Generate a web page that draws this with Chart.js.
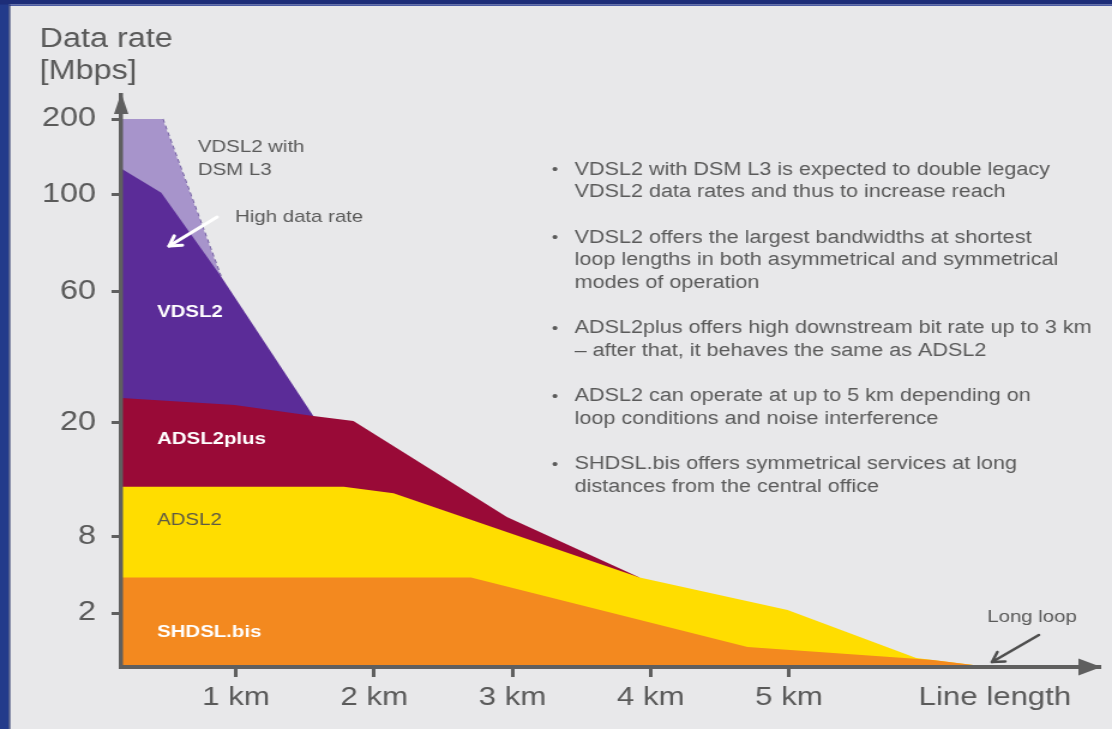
<!DOCTYPE html>
<html><head><meta charset="utf-8">
<script src="https://cdn.jsdelivr.net/npm/chart.js@4/dist/chart.umd.min.js"></script>
<style>
html,body{margin:0;padding:0;background:#e8e8ea;overflow:hidden;width:1112px;height:729px;}
#wrap{width:927px;height:729px;transform:scaleX(1.19957);transform-origin:0 0;}
canvas{display:block}
</style></head><body>
<div id="wrap"><canvas id="c" width="927" height="729"></canvas></div>
<script>
// ---- data (line length in km, data rate in Mbps) ----
const distanceTicksKm = [1, 2, 3, 4, 5, 6.49];
const distanceTickLabels = ['1 km', '2 km', '3 km', '4 km', '5 km', 'Line length'];
const rateTicksMbps = [2, 8, 20, 60, 100, 200];

const shdslKm   = [0.17, 2.70, 4.70, 6.04, 6.45];
const shdslMbps = [4.8, 4.8, 0.74, 0.26, 0];

const adsl2Km   = [0.17, 1.78, 2.14, 3.92, 4.99, 5.92, 6.45];
const adsl2Mbps = [13.3, 13.3, 12.6, 4.8, 2.24, 0.33, 0];

const adsl2plusKm   = [0.17, 0.99, 1.56, 1.85, 2.96, 3.92];
const adsl2plusMbps = [27.6, 25.5, 22.1, 20.6, 10.1, 4.8];

const vdsl2Km   = [0.17, 0.46, 0.89, 1.56];
const vdsl2Mbps = [135, 103, 66.6, 22.1];

const dsmKm   = [0.17, 0.47, 0.89];
const dsmMbps = [200, 200, 66.6];

const seriesNames = ['SHDSL.bis', 'ADSL2', 'ADSL2plus', 'VDSL2', 'VDSL2 with DSM L3'];

const bulletTexts = [
  ['VDSL2 with DSM L3 is expected to double legacy', 'VDSL2 data rates and thus to increase reach'],
  ['VDSL2 offers the largest bandwidths at shortest', 'loop lengths in both asymmetrical and symmetrical', 'modes of operation'],
  ['ADSL2plus offers high downstream bit rate up to 3 km', '\u2013 after that, it behaves the same as ADSL2'],
  ['ADSL2 can operate at up to 5 km depending on', 'loop conditions and noise interference'],
  ['SHDSL.bis offers symmetrical services at long', 'distances from the central office']
];

// schematic (non-uniform) rate axis: [Mbps, fraction of axis height]
const rateAxisBreaks = [[0,0],[2,0.0944],[8,0.2273],[20,0.4266],[60,0.6556],[100,0.8252],[200,0.958],[232,1]];

class BrokenScale extends Chart.LinearScale {
  static id = 'broken';
  static defaults = Chart.LinearScale.defaults;
  _frac(v) {
    const b = rateAxisBreaks;
    if (v <= b[0][0]) return b[0][1];
    for (let i = 1; i < b.length; i++) {
      if (v <= b[i][0]) {
        const [v0, f0] = b[i-1], [v1, f1] = b[i];
        return f0 + (v - v0) / (v1 - v0) * (f1 - f0);
      }
    }
    return b[b.length-1][1];
  }
  getPixelForValue(v) { return this.getPixelForDecimal(this._frac(v)); }
  getValueForPixel(p) {
    const f = this.getDecimalForPixel(p), b = rateAxisBreaks;
    for (let i = 1; i < b.length; i++) {
      if (f <= b[i][1]) {
        const [v0, f0] = b[i-1], [v1, f1] = b[i];
        return v0 + (f - f0) / (f1 - f0) * (v1 - v0);
      }
    }
    return b[b.length-1][0];
  }
}
Chart.register(BrokenScale);

const FONT = '"Liberation Sans", Arial, Helvetica, sans-serif';
Chart.defaults.font.family = FONT;
const AXIS = '#5f5f5f';
const TEXT = '#5a5a5a';

const pts = (xs, ys) => xs.map((x, i) => ({x, y: ys[i]}));
const fills = ['#f3891f', '#ffdd00', '#990a37', '#5b2c98', '#a794cb'];
const xsAll = [shdslKm, adsl2Km, adsl2plusKm, vdsl2Km, dsmKm];
const ysAll = [shdslMbps, adsl2Mbps, adsl2plusMbps, vdsl2Mbps, dsmMbps];

const datasets = seriesNames.map((name, i) => ({
  label: name,
  data: pts(xsAll[i], ysAll[i]),
  backgroundColor: fills[i],
  borderColor: 'rgba(0,0,0,0)',
  borderWidth: 1,
  pointRadius: 0,
  fill: 'origin',
  tension: 0
}));
// dashed falling edge of the DSM L3 area (drawn on top)
datasets.unshift({
  label: 'DSM L3 edge',
  data: pts(dsmKm.slice(1), dsmMbps.slice(1)),
  borderColor: '#6e5a9e',
  borderWidth: 1.6,
  borderDash: [4, 3],
  pointRadius: 0,
  fill: false,
  tension: 0,
  order: 10
});

function txt(ctx, s, x, y, size, color, weight) {
  ctx.font = (weight || 'normal') + ' ' + size + 'px ' + FONT;
  ctx.fillStyle = color;
  ctx.textAlign = 'left';
  ctx.textBaseline = 'middle';
  ctx.fillText(s, x, y);
}
function arrow(ctx, x0, y0, x1, y1, color, w, head) {
  ctx.save();
  ctx.strokeStyle = color; ctx.lineWidth = w; ctx.lineCap = 'round'; ctx.lineJoin = 'round';
  ctx.beginPath(); ctx.moveTo(x0, y0); ctx.lineTo(x1, y1); ctx.stroke();
  const a = Math.atan2(y1 - y0, x1 - x0);
  ctx.beginPath();
  ctx.moveTo(x1 - head * Math.cos(a - 0.55), y1 - head * Math.sin(a - 0.55));
  ctx.lineTo(x1, y1);
  ctx.lineTo(x1 - head * Math.cos(a + 0.55), y1 - head * Math.sin(a + 0.55));
  ctx.stroke();
  ctx.restore();
}

const decor = {
  id: 'decor',
  beforeDraw(chart) {
    const ctx = chart.ctx;
    ctx.save();
    ctx.fillStyle = '#e8e8ea';
    ctx.fillRect(0, 0, chart.width, chart.height);
    ctx.fillStyle = '#233b8b';
    ctx.fillRect(0, 0, 7.5, chart.height);
    ctx.fillStyle = '#1d2d78';
    ctx.fillRect(0, 0, chart.width, 4.5);
    ctx.fillStyle = '#4b5ba3';
    ctx.fillRect(7.5, 4.5, chart.width, 1.5);
    ctx.fillStyle = '#16255f';
    ctx.fillRect(7.5, 4.5, 1, chart.height);
    ctx.restore();
  },
  afterDraw(chart) {
    const ctx = chart.ctx, ca = chart.chartArea;
    ctx.save();
    // axis arrowheads
    ctx.fillStyle = AXIS;
    ctx.beginPath();
    ctx.moveTo(ca.left, ca.top - 2); ctx.lineTo(ca.left - 6, ca.top + 19); ctx.lineTo(ca.left + 6, ca.top + 19);
    ctx.closePath(); ctx.fill();
    ctx.beginPath();
    ctx.moveTo(ca.right + 1, ca.bottom); ctx.lineTo(ca.right - 18, ca.bottom - 8.5); ctx.lineTo(ca.right - 18, ca.bottom + 8.5);
    ctx.closePath(); ctx.fill();

    // axis title
    txt(ctx, 'Data rate', 33, 40, 27, TEXT);
    txt(ctx, '[Mbps]', 33, 72, 27, TEXT);

    // area labels
    txt(ctx, 'VDSL2', 131, 312, 17, '#ffffff', 'bold');
    txt(ctx, 'ADSL2plus', 131, 439, 17, '#ffffff', 'bold');
    txt(ctx, 'ADSL2', 131, 520, 17, '#5e5a44');
    txt(ctx, 'SHDSL.bis', 131, 632, 17, '#ffffff', 'bold');

    // callouts
    txt(ctx, 'VDSL2 with', 165, 147, 17, TEXT);
    txt(ctx, 'DSM L3', 165, 170, 17, TEXT);
    txt(ctx, 'High data rate', 196, 217, 17, TEXT);
    arrow(ctx, 181, 217, 141, 246, '#ffffff', 3, 11);
    txt(ctx, 'Long loop', 823, 617, 17, TEXT);
    arrow(ctx, 866, 635, 827, 662, '#4f4f4f', 2.5, 11);

    // bullet list
    let y = 170;
    bulletTexts.forEach(lines => {
      txt(ctx, '\u2022', 460, y, 15, TEXT);
      lines.forEach(l => { txt(ctx, l, 479, y, 18, TEXT); y += 22.5; });
      y += 23;
    });
    ctx.restore();
  }
};

new Chart(document.getElementById('c'), {
  type: 'line',
  data: { datasets },
  options: {
    responsive: false,
    animation: false,
    devicePixelRatio: 1,
    layout: { padding: { top: 95, right: 10, left: 0, bottom: 0 } },
    plugins: { legend: { display: false }, tooltip: { enabled: false } },
    elements: { line: { borderJoinStyle: 'round' } },
    scales: {
      x: {
        type: 'linear', min: 0.17, max: 7.25,
        afterBuildTicks: s => { s.ticks = distanceTicksKm.map(v => ({ value: v })); },
        afterFit: s => { s.height = 62; },
        ticks: {
          autoSkip: false, maxRotation: 0, padding: 5,
          color: TEXT, font: { size: 26 },
          callback: (v, i) => distanceTickLabels[i]
        },
        grid: {
          drawOnChartArea: false, drawTicks: true, tickLength: 10, tickWidth: 3,
          tickColor: c => c.index === distanceTicksKm.length - 1 ? 'rgba(0,0,0,0)' : AXIS
        },
        border: { display: true, color: AXIS, width: 4, z: 1 }
      },
      y: {
        type: 'broken', min: 0, max: 232,
        afterBuildTicks: s => { s.ticks = rateTicksMbps.map(v => ({ value: v })); },
        afterFit: s => { s.width = 101; },
        ticks: { color: TEXT, font: { size: 27 }, padding: 13, callback: v => String(v) },
        grid: { drawOnChartArea: false, drawTicks: true, tickLength: 8, tickWidth: 3, tickColor: AXIS },
        border: { display: true, color: AXIS, width: 3.5, z: 1 }
      }
    }
  },
  plugins: [decor]
});
</script>
</body></html>
